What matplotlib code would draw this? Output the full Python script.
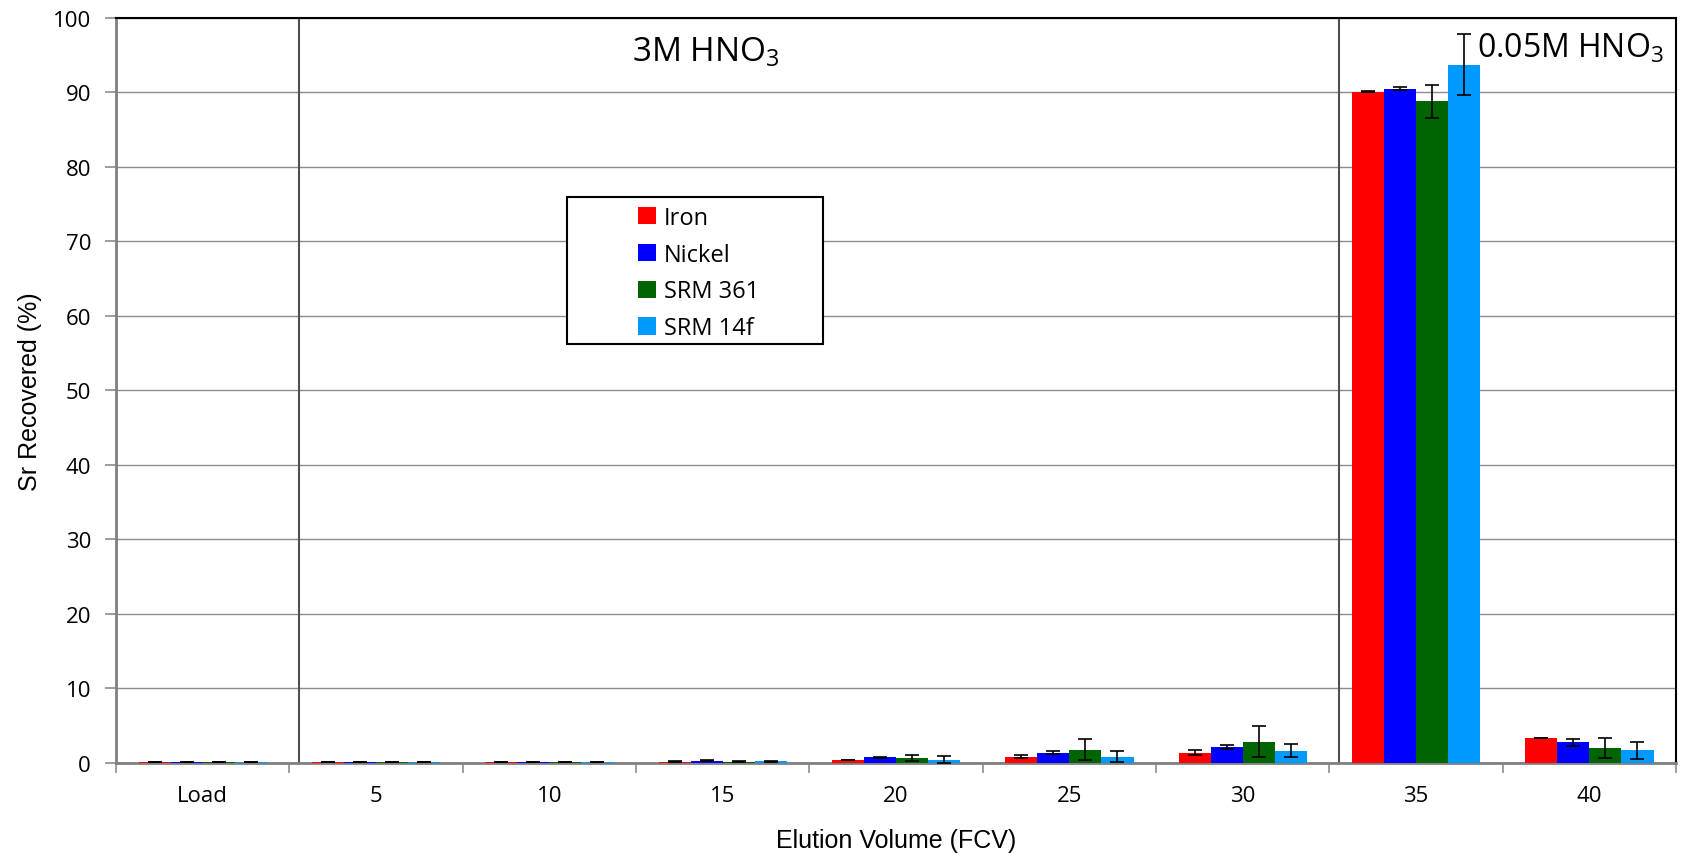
import numpy as np
import matplotlib
matplotlib.use("Agg")
import matplotlib.pyplot as plt
from matplotlib.patches import Rectangle

plt.rcParams['mathtext.default'] = 'regular'

categories = ["Load", "5", "10", "15", "20", "25", "30", "35", "40"]
series = ["Iron", "Nickel", "SRM 361", "SRM 14f"]
colors = ["#FF0000", "#0000FF", "#006400", "#0099FF"]

iron = [0.1, 0.1, 0.1, 0.18, 0.4, 0.86, 1.4, 90.1, 3.36]
iron_err = [0.0, 0.0, 0.0, 0.05, 0.05, 0.2, 0.34, 0.05, 0.05]
nickel = [0.1, 0.1, 0.1, 0.3, 0.77, 1.4, 2.16, 90.5, 2.77]
nickel_err = [0.0, 0.0, 0.0, 0.05, 0.1, 0.15, 0.22, 0.2, 0.45]
srm361 = [0.1, 0.1, 0.1, 0.18, 0.68, 1.8, 2.88, 88.8, 2.0]
srm361_err = [0.0, 0.0, 0.0, 0.05, 0.45, 1.42, 2.1, 2.2, 1.39]
srm14f = [0.1, 0.1, 0.1, 0.2, 0.45, 0.86, 1.67, 93.7, 1.7]
srm14f_err = [0.0, 0.0, 0.0, 0.1, 0.45, 0.77, 0.86, 4.1, 1.1]

values = [iron, nickel, srm361, srm14f]
errors = [iron_err, nickel_err, srm361_err, srm14f_err]

fig = plt.figure(figsize=(16.87, 8.54), dpi=100)
ax = fig.add_axes([0.0688, 0.1054, 0.9247, 0.8726])

x = np.arange(len(categories))
w = 0.185
for i, (vals, errs, c, name) in enumerate(zip(values, errors, colors, series)):
    pos = x + (i - 1.5) * w
    ax.bar(pos, vals, width=w, color=c, label=name, zorder=3)
    ax.errorbar(pos, vals, yerr=errs, fmt='none', ecolor='black',
                elinewidth=1.2, capsize=5, capthick=1.2, zorder=4)

ax.set_xlim(-0.5, len(categories) - 0.5)
ax.set_ylim(0, 100)
ax.set_yticks(np.arange(0, 101, 10))
ax.yaxis.grid(True, color='#8c8c8c', linewidth=1.0, zorder=0)

ax.set_xticks(np.arange(-0.5, len(categories), 1.0))
ax.set_xticklabels([])
ax.set_xticks(x, minor=True)
ax.set_xticklabels(categories, minor=True, family='Open Sans')
ax.set_yticklabels([str(v) for v in range(0, 101, 10)], family='Open Sans')
ax.tick_params(axis='x', which='major', length=7, color='#8c8c8c', width=1.2)
ax.tick_params(axis='x', which='minor', length=0, pad=16, labelsize=16)
ax.tick_params(axis='y', length=8, color='#8c8c8c', width=1.2, labelsize=16, pad=10)

for s in ['left', 'bottom']:
    ax.spines[s].set_color('#808080')
    ax.spines[s].set_linewidth(2)
for s in ['top', 'right']:
    ax.spines[s].set_color('black')
    ax.spines[s].set_linewidth(1.5)

# section separators
for xv in [0.553, 6.553]:
    ax.axvline(xv, color='#505050', linewidth=1.5, zorder=2)

ax.text(2.90, 95.4, "3M HNO$_3$", fontsize=24, family='Open Sans',
        ha='center', va='center')
ax.text(7.35, 96.0, "0.05M HNO$_3$", fontsize=23, family='Open Sans',
        ha='left', va='center')

ax.set_ylabel("Sr Recovered (%)", fontsize=18, family='Liberation Sans', labelpad=8)
ax.set_xlabel("Elution Volume (FCV)", fontsize=18, family='Liberation Sans', labelpad=16)

# legend box
ax.add_patch(Rectangle((0.289, 0.562), 0.164, 0.198, transform=ax.transAxes,
                       facecolor='white', edgecolor='black', linewidth=1.5, zorder=5))
leg = ax.legend(loc='upper left', bbox_to_anchor=(0.321, 0.776), frameon=False,
                prop={'family': 'Open Sans', 'size': 17}, handlelength=0.75,
                handleheight=0.75, handletextpad=0.35, labelspacing=0.54)
leg.set_zorder(6)

fig.savefig("out.png", dpi=100)
